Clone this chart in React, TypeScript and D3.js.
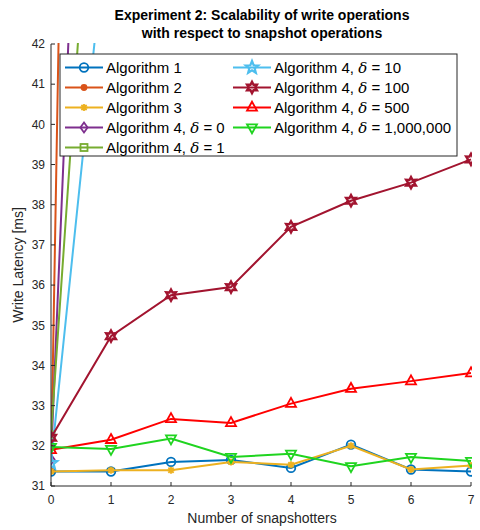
import React from "react";
import * as d3 from "d3";

// x: number of snapshotters
const snapshotters = [0, 1, 2, 3, 4, 5, 6, 7];

// write latency [ms] per series (values beyond 42 run off the top of the axes)
const alg1 = [31.36, 31.36, 31.6, 31.65, 31.45, 32.03, 31.41, 31.36];
const alg2 = [31.4, 116, 205, 292, 380, 468, 556, 645];
const alg3 = [31.36, 31.39, 31.39, 31.6, 31.53, 32.0, 31.41, 31.51];
const alg4d0 = [31.66, 67.5, 104, 140, 176, 212, 248, 285];
const alg4d1 = [32.28, 54, 76, 98, 120, 142, 164, 186];
const alg4d10 = [31.57, 46, 60.5, 75, 89, 103, 118, 132];
const alg4d100 = [32.2, 34.73, 35.75, 35.95, 37.45, 38.1, 38.55, 39.13];
const alg4d500 = [31.9, 32.15, 32.67, 32.57, 33.05, 33.42, 33.61, 33.81];
const alg4d1e6 = [31.97, 31.92, 32.18, 31.72, 31.8, 31.49, 31.72, 31.62];

const xTicks = [0, 1, 2, 3, 4, 5, 6, 7];
const yTicks = [31, 32, 33, 34, 35, 36, 37, 38, 39, 40, 41, 42];

type Marker = "o" | "." | "*" | "d" | "s" | "p" | "h" | "^" | "v";

interface Series {
  name: string;
  delta?: string;
  values: number[];
  color: string;
  marker: Marker;
}

const series: Series[] = [
  { name: "Algorithm 1", values: alg1, color: "#0072BD", marker: "o" },
  { name: "Algorithm 2", values: alg2, color: "#D95319", marker: "." },
  { name: "Algorithm 3", values: alg3, color: "#EDB120", marker: "*" },
  { name: "Algorithm 4, ", delta: "0", values: alg4d0, color: "#7E2F8E", marker: "d" },
  { name: "Algorithm 4, ", delta: "1", values: alg4d1, color: "#77AC30", marker: "s" },
  { name: "Algorithm 4, ", delta: "10", values: alg4d10, color: "#4DBEEE", marker: "p" },
  { name: "Algorithm 4, ", delta: "100", values: alg4d100, color: "#A2142F", marker: "h" },
  { name: "Algorithm 4, ", delta: "500", values: alg4d500, color: "#FF0000", marker: "^" },
  { name: "Algorithm 4, ", delta: "1,000,000", values: alg4d1e6, color: "#1FD41F", marker: "v" },
];

const width = 480;
const height = 530;
const margin = { left: 51, right: 9, top: 44, bottom: 44 };
const axisColor = "#262626";
const font = "'Liberation Sans', Arial, Helvetica, sans-serif";

function starPath(points: number, outer: number, inner: number, rot = -Math.PI / 2) {
  const pts: [number, number][] = [];
  for (let i = 0; i < points * 2; i++) {
    const r = i % 2 === 0 ? outer : inner;
    const a = rot + (i * Math.PI) / points;
    pts.push([r * Math.cos(a), r * Math.sin(a)]);
  }
  return "M" + pts.map((p) => p.join(",")).join("L") + "Z";
}

function MarkerShape({ type, color }: { type: Marker; color: string }) {
  const sw = 1.8;
  switch (type) {
    case "o":
      return <circle r={4.3} fill="none" stroke={color} strokeWidth={sw} />;
    case ".":
      return <circle r={3.4} fill={color} stroke="none" />;
    case "*":
      return (
        <path
          d="M-3.5,0L3.5,0M0,-3.5L0,3.5M-2.6,-2.6L2.6,2.6M-2.6,2.6L2.6,-2.6"
          stroke={color}
          strokeWidth={sw}
          fill="none"
        />
      );
    case "d":
      return <path d="M0,-5L3.6,0L0,5L-3.6,0Z" fill="none" stroke={color} strokeWidth={sw} />;
    case "s":
      return <rect x={-3.5} y={-3.5} width={7} height={7} fill="none" stroke={color} strokeWidth={sw} />;
    case "p":
      return <path d={starPath(5, 6.5, 2.8)} fill="none" stroke={color} strokeWidth={2.2} />;
    case "h":
      return <path d={starPath(6, 5.6, 3.1)} fill="none" stroke={color} strokeWidth={2.4} />;
    case "^":
      return <path d="M0,-5.8L5,3.2L-5,3.2Z" fill="none" stroke={color} strokeWidth={sw} />;
    case "v":
      return <path d="M0,5.8L5,-3.2L-5,-3.2Z" fill="none" stroke={color} strokeWidth={sw} />;
  }
  return null;
}

export default function App() {
  const x = d3
    .scaleLinear()
    .domain([0, 7])
    .range([margin.left, width - margin.right]);
  const y = d3
    .scaleLinear()
    .domain([31, 42])
    .range([height - margin.bottom, margin.top]);

  const line = d3
    .line<number>()
    .x((_d, i) => x(snapshotters[i]))
    .y((d) => y(d));

  const plotW = width - margin.left - margin.right;
  const plotH = height - margin.top - margin.bottom;

  // legend layout
  const legX = 60;
  const legY = 54;
  const legW = 397;
  const legH = 102;
  const rowH = 20;
  const colX = [legX + 5, legX + 173];

  return (
    <svg
      width={width}
      height={height}
      style={{ position: "absolute", left: 0, top: 0, background: "#fff" }}
      fontFamily={font}
    >
      <defs>
        <clipPath id="plot">
          <rect x={margin.left} y={margin.top - 1} width={plotW + 1} height={plotH + 2} />
        </clipPath>
      </defs>

      {/* title */}
      <text x={262} y={20} textAnchor="middle" fontSize={14} fontWeight="bold" fill="#000">
        Experiment 2: Scalability of write operations
      </text>
      <text x={262} y={38} textAnchor="middle" fontSize={14} fontWeight="bold" fill="#000">
        with respect to snapshot operations
      </text>

      {/* series */}
      <g clipPath="url(#plot)">
        {series.map((s) => (
          <g key={s.name + (s.delta ?? "")}>
            <path d={line(s.values) ?? ""} fill="none" stroke={s.color} strokeWidth={2} />
            {s.values.map((v, i) =>
              v <= 42.5 ? (
                <g key={i} transform={`translate(${x(snapshotters[i])},${y(v)})`}>
                  <MarkerShape type={s.marker} color={s.color} />
                </g>
              ) : null
            )}
          </g>
        ))}
      </g>

      {/* axes */}
      <g stroke={axisColor} strokeWidth={1} fill="none">
        <line x1={margin.left} x2={margin.left} y1={margin.top} y2={height - margin.bottom} />
        <line x1={margin.left} x2={width - margin.right} y1={height - margin.bottom} y2={height - margin.bottom} />
        {yTicks.map((t) => (
          <line key={t} x1={margin.left} x2={margin.left + 4} y1={y(t)} y2={y(t)} />
        ))}
        {xTicks.map((t) => (
          <line key={t} x1={x(t)} x2={x(t)} y1={height - margin.bottom} y2={height - margin.bottom - 4} />
        ))}
      </g>
      <g fontSize={12} fill={axisColor}>
        {yTicks.map((t) => (
          <text key={t} x={margin.left - 6} y={y(t) + 4.3} textAnchor="end">
            {t}
          </text>
        ))}
        {xTicks.map((t) => (
          <text key={t} x={x(t)} y={height - margin.bottom + 18} textAnchor="middle">
            {t}
          </text>
        ))}
      </g>
      <text x={262} y={523} textAnchor="middle" fontSize={14} fill={axisColor}>
        Number of snapshotters
      </text>
      <text transform={`translate(23,${(margin.top + height - margin.bottom) / 2}) rotate(-90)`} textAnchor="middle" fontSize={14} fill={axisColor}>
        Write Latency [ms]
      </text>

      {/* legend */}
      <rect x={legX} y={legY} width={legW} height={legH} fill="#fff" stroke={axisColor} strokeWidth={1} />
      {series.map((s, i) => {
        const col = i < 5 ? 0 : 1;
        const row = i < 5 ? i : i - 5;
        const lx = colX[col];
        const ly = legY + 13.5 + row * rowH;
        return (
          <g key={i}>
            <line x1={lx} x2={lx + 38} y1={ly} y2={ly} stroke={s.color} strokeWidth={2} />
            <g transform={`translate(${lx + 19},${ly})`}>
              <MarkerShape type={s.marker} color={s.color} />
            </g>
            <text x={lx + 41} y={ly + 5.3} fontSize={15} fill="#000">
              {s.name}
              {s.delta !== undefined && (
                <>
                  <tspan fontFamily="'DejaVu Serif', 'Liberation Serif', serif" fontStyle="italic">δ</tspan>
                  {" = " + s.delta}
                </>
              )}
            </text>
          </g>
        );
      })}
    </svg>
  );
}
